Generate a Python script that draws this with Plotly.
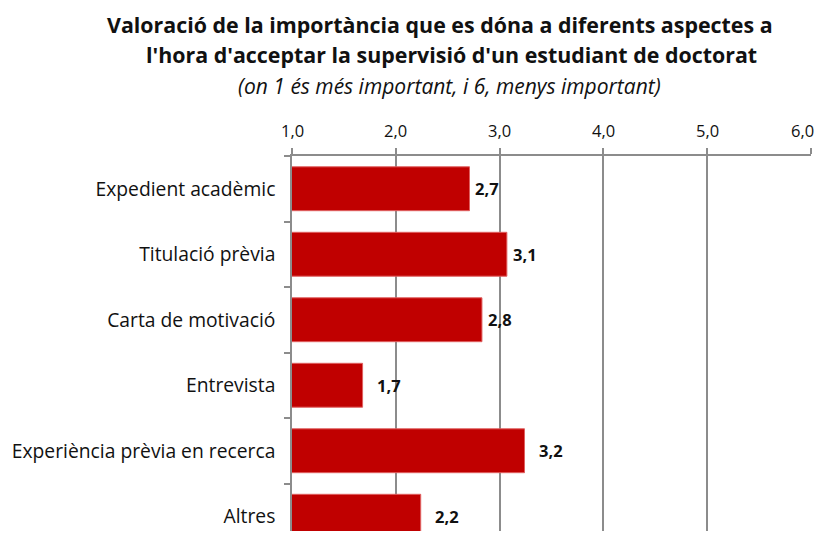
import plotly.graph_objects as go

categories = [
    "Expedient acadèmic",
    "Titulació prèvia",
    "Carta de motivació",
    "Entrevista",
    "Experiència prèvia en recerca",
    "Altres",
]
values = [2.71, 3.07, 2.83, 1.68, 3.24, 2.24]
x_ticks = [1, 2, 3, 4, 5, 6]

title_line1 = "Valoració de la importància que es dóna a diferents aspectes a"
title_line2 = "l'hora d'acceptar la supervisió d'un estudiant de doctorat"
subtitle = "(on 1 és més important, i 6, menys important)"

# label gap (px) after each bar end, mimicking the reference placement
label_gap = [3, 4, 4, 12, 12, 12]

FONT = "Open Sans"
GRID = "#8c8c8c"
BAR = "#C00000"
TXT = "#111111"

OFF = 8  # page body margin
W, H = 825 - OFF, 545 - 2 * OFF - 6
L = 292 - OFF
R = W - (811 - OFF)
T = 156 - OFF
B = 0
CAT_PX = 65.5
span = (H - T - B) / CAT_PX

fig = go.Figure(
    go.Bar(
        y=categories,
        x=values,
        orientation="h",
        marker=dict(color=BAR, line=dict(color="#e06060", width=1)),
        width=0.67,
        hoverinfo="x+y",
    )
)

for cat, val, gap in zip(categories, values, label_gap):
    fig.add_annotation(
        x=val, y=cat, xref="x", yref="y",
        text=f"{val:.1f}".replace(".", ","),
        showarrow=False, xanchor="left", yanchor="middle",
        xshift=gap,
        font=dict(family=FONT, size=16.5, color=TXT, weight="bold"),
    )

# top axis tick labels (last one kept inside the visible page)
for i, t in enumerate(x_ticks):
    last = i == len(x_ticks) - 1
    fig.add_annotation(
        x=t, y=1, xref="x", yref="paper",
        text=f"{t:.1f}".replace(".", ","),
        showarrow=False,
        xanchor="right" if last else "center",
        xshift=5 if last else 0,
        yanchor="middle", yshift=26,
        font=dict(family=FONT, size=16.5, color=TXT),
    )

fig.update_layout(
    width=W,
    height=H,
    margin=dict(l=L, r=R, t=T, b=B, autoexpand=False),
    paper_bgcolor="white",
    plot_bgcolor="white",
    separators=",.",
    showlegend=False,
    font=dict(family=FONT, color=TXT),
    xaxis=dict(
        side="top",
        range=[1, 6],
        tickvals=x_ticks,
        showticklabels=False,
        showgrid=True,
        gridcolor=GRID,
        gridwidth=1.5,
        showline=True,
        linecolor=GRID,
        linewidth=1.5,
        ticks="outside",
        ticklen=6,
        tickcolor=GRID,
        tickwidth=1.5,
        zeroline=False,
        automargin=False,
        fixedrange=True,
    ),
    yaxis=dict(
        type="category",
        categoryorder="array",
        categoryarray=categories,
        range=[-0.5 + span, -0.5],
        showline=True,
        linecolor=GRID,
        linewidth=1.5,
        ticks="outside",
        tickson="boundaries",
        ticklen=6,
        tickcolor=GRID,
        tickwidth=1.5,
        tickfont=dict(family=FONT, size=19.3, color=TXT),
        ticklabelstandoff=11,
        showgrid=False,
        automargin=False,
        fixedrange=True,
    ),
)

anns = [
    (title_line1, 24, 21.4, "normal", "bold", 440),
    (title_line2, 55, 21.4, "normal", "bold", 451),
    (subtitle, 86, 21, "italic", "normal", 449),
]
for txt, ypx, size, style, weight, xc in anns:
    fig.add_annotation(
        text=txt,
        xref="paper", yref="paper",
        x=(xc - OFF - L) / (W - L - R),
        y=1 + (T - (ypx - OFF)) / (H - T - B),
        xanchor="center", yanchor="middle",
        showarrow=False,
        font=dict(family=FONT, size=size, color=TXT, weight=weight, style=style),
    )

fig.write_html("out.html")
